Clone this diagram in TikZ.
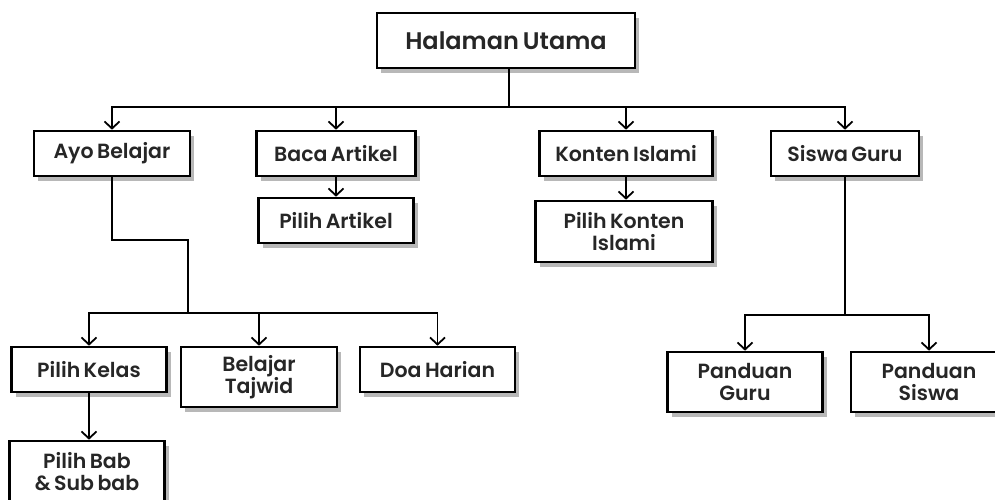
\documentclass[tikz,border=0pt]{standalone}
\usepackage{fontspec}
\setmainfont{Poppins SemiBold}[WordSpace=0.7]
\usetikzlibrary{arrows.meta,shadows}
\begin{document}
\begin{tikzpicture}[x=1pt,y=-1pt,
  box/.style={draw=black, line width=2.6pt, fill=white, inner sep=0pt, align=center,
    text=black!85, font=\fontsize{20.5}{22.5}\selectfont,
    drop shadow={shadow xshift=4pt, shadow yshift=-5pt, fill=black!28, opacity=1}},
  conn/.style={line width=1.8pt, draw=black},
  arr/.style={conn, -{Straight Barb[length=7pt,width=15pt,line width=1.8pt]}}]
\useasboundingbox (0,0) rectangle (995,499);
\node[box, minimum width=258, minimum height=55, font=\fontsize{24}{26}\selectfont] (top) at (506,40.5) {Halaman Utama};
\node[box, minimum width=156, minimum height=45] (ayo) at (112,153.5) {Ayo Belajar};
\node[box, minimum width=159, minimum height=45] (baca) at (336,153.5) {Baca Artikel};
\node[box, minimum width=155, minimum height=45] (part) at (336,220.5) {Pilih Artikel};
\node[box, minimum width=173, minimum height=45] (konten) at (626,153.5) {Konten Islami};
\node[box, minimum width=177, minimum height=61] (pkonten) at (624,231.5) {Pilih Konten\\Islami};
\node[box, minimum width=148, minimum height=45] (siswa) at (845,153.5) {Siswa Guru};
\node[box, minimum width=155, minimum height=45] (kelas) at (89,369.5) {Pilih Kelas};
\node[box, minimum width=155, minimum height=61] (bab) at (87,471.5) {Pilih Bab\\\&\,Sub bab};
\node[box, minimum width=156, minimum height=60] (tajwid) at (259,377) {Belajar\\Tajwid};
\node[box, minimum width=155, minimum height=45] (doa) at (437.5,369.5) {Doa Harian};
\node[box, minimum width=155, minimum height=60] (pguru) at (745,382) {Panduan\\Guru};
\node[box, minimum width=156, minimum height=60] (psiswa) at (929,382) {Panduan\\Siswa};
% level 1
\coordinate (hub) at (509,107);
\draw[conn] (top.south -| hub) -- (hub);
\draw[arr] (hub) -| (ayo.north);
\draw[arr] (hub) -| (baca.north);
\draw[arr] (hub) -| (konten.north);
\draw[arr] (hub) -| (siswa.north);
\draw[arr] (baca) -- (part);
\draw[arr] (konten.south) -- (konten.south |- pkonten.north);
% ayo belajar branch
\coordinate (bend) at (188,240);
\coordinate (j1) at (188,313);
\draw[conn] (ayo.south) |- (bend) -- (j1);
\draw[arr] (j1) -| (kelas.north);
\draw[arr] (j1) -| (tajwid.north);
\draw[arr] (j1) -| (doa.north);
\draw[arr] (kelas.south) -- (kelas.south |- bab.north);
% siswa guru branch
\coordinate (j2) at (845,315);
\draw[conn] (siswa.south) -- (j2);
\draw[arr] (j2) -| (pguru.north);
\draw[arr] (j2) -| (psiswa.north);
\end{tikzpicture}
\end{document}
